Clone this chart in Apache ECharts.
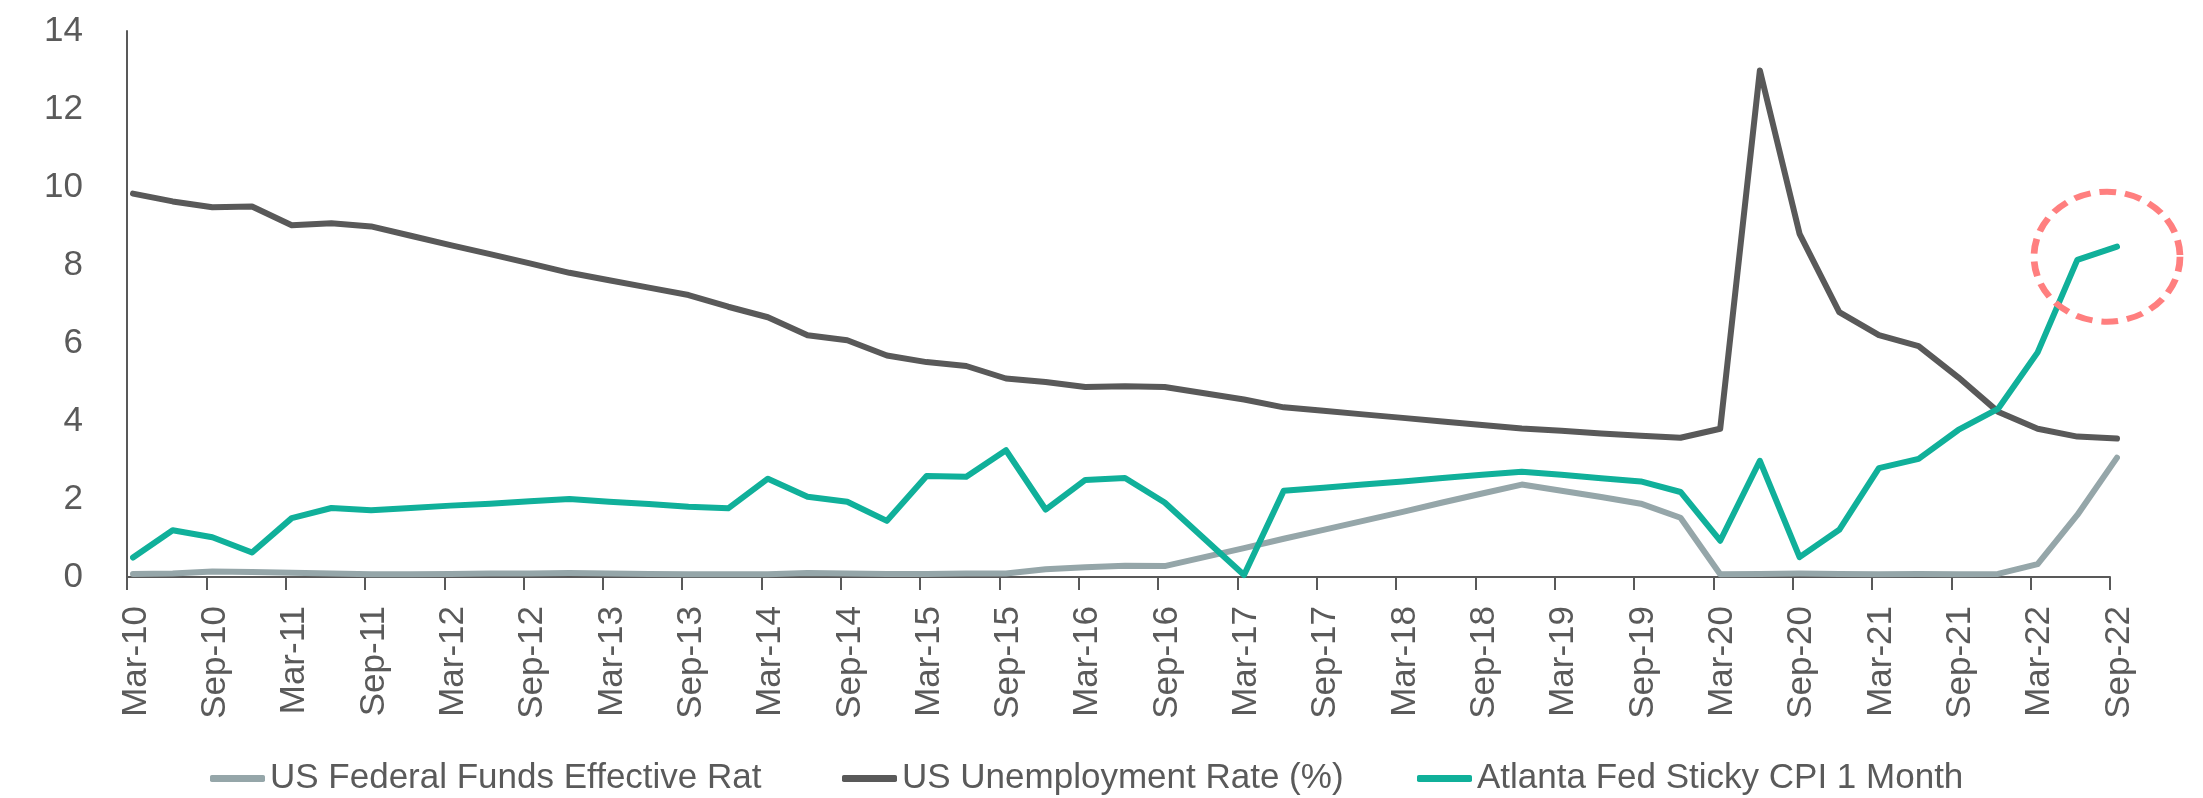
<!DOCTYPE html>
<html>
<head>
<meta charset="utf-8">
<script src="https://cdn.jsdelivr.net/npm/echarts@6/dist/echarts.min.js"></script>
<style>
  html, body { margin: 0; padding: 0; background: #ffffff; }
  #chart { width: 2203px; height: 798px; }
</style>
</head>
<body>
<div id="chart"></div>
<script>
const categories = [
  'Mar-10','Jun-10','Sep-10','Dec-10','Mar-11','Jun-11','Sep-11','Dec-11',
  'Mar-12','Jun-12','Sep-12','Dec-12','Mar-13','Jun-13','Sep-13','Dec-13',
  'Mar-14','Jun-14','Sep-14','Dec-14','Mar-15','Jun-15','Sep-15','Dec-15',
  'Mar-16','Jun-16','Sep-16','Dec-16','Mar-17','Jun-17','Sep-17','Dec-17',
  'Mar-18','Jun-18','Sep-18','Dec-18','Mar-19','Jun-19','Sep-19','Dec-19',
  'Mar-20','Jun-20','Sep-20','Dec-20','Mar-21','Jun-21','Sep-21','Dec-21',
  'Mar-22','Jun-22','Sep-22'
];

const seriesNames = [
  'US Federal Funds Effective Rat',
  'US Unemployment Rate (%)',
  'Atlanta Fed Sticky CPI 1 Month'
];

const fedFunds = [
  0.08, 0.09, 0.14, 0.13, 0.11, 0.09, 0.07, 0.07,
  0.08, 0.09, 0.09, 0.10, 0.09, 0.08, 0.07, 0.07,
  0.07, 0.10, 0.09, 0.08, 0.08, 0.09, 0.09, 0.20,
  0.25, 0.29, 0.28, 0.51, 0.74, 0.98, 1.21, 1.44,
  1.67, 1.91, 2.14, 2.37, 2.21, 2.05, 1.88, 1.52,
  0.07, 0.08, 0.09, 0.08, 0.07, 0.08, 0.07, 0.08,
  0.33, 1.59, 3.06
];

const unemployment = [
  9.83, 9.63, 9.48, 9.50, 9.02, 9.07, 8.99, 8.75,
  8.51, 8.28, 8.04, 7.80, 7.61, 7.42, 7.23, 6.93,
  6.66, 6.20, 6.07, 5.68, 5.51, 5.41, 5.09, 5.00,
  4.87, 4.89, 4.87, 4.71, 4.55, 4.35, 4.26, 4.17,
  4.08, 3.99, 3.90, 3.81, 3.75, 3.68, 3.62, 3.57,
  3.80, 12.99, 8.80, 6.79, 6.20, 5.92, 5.12, 4.24,
  3.80, 3.60, 3.55
];

const stickyCpi = [
  0.50, 1.20, 1.02, 0.63, 1.51, 1.77, 1.71, 1.77,
  1.83, 1.88, 1.94, 2.00, 1.93, 1.87, 1.80, 1.76,
  2.52, 2.06, 1.93, 1.44, 2.59, 2.57, 3.25, 1.73,
  2.49, 2.54, 1.91, 0.98, 0.05, 2.21, 2.29, 2.37,
  2.45, 2.54, 2.62, 2.70, 2.62, 2.53, 2.45, 2.18,
  0.93, 2.98, 0.51, 1.21, 2.79, 3.03, 3.77, 4.31,
  5.76, 8.13, 8.47
];

const yTicks = { min: 0, max: 14, interval: 2 };

const colors = ['#95A6A9', '#595959', '#10B09A'];
const FONT = "'Liberation Sans', Arial, sans-serif";
const TEXT_COLOR = '#5a5a5a';

const chart = echarts.init(document.getElementById('chart'), null, { renderer: 'canvas' });

function legendAt(i, left) {
  return {
    show: true,
    data: [seriesNames[i]],
    left: left,
    top: 761,
    padding: 0,
    itemWidth: 55,
    itemHeight: 7,
    icon: 'roundRect',
    textStyle: { fontFamily: FONT, fontSize: 35, color: TEXT_COLOR },
    selectedMode: false
  };
}

const seriesData = [fedFunds, unemployment, stickyCpi];

const option = {
  animation: false,
  backgroundColor: '#ffffff',
  color: colors,
  grid: [
    // axis frame (ticks / labels sit on the month boundaries)
    { left: 127, right: 93, top: 31, bottom: 221, containLabel: false },
    // plotted quarterly observations (slightly offset from the boundaries)
    { left: 133, right: 86, top: 31, bottom: 221, containLabel: false }
  ],
  legend: [legendAt(0, 210), legendAt(1, 842), legendAt(2, 1417)],
  xAxis: [
    {
      type: 'category',
      gridIndex: 0,
      data: categories,
      boundaryGap: false,
      axisLine: { show: true, lineStyle: { color: '#595959', width: 2 } },
      axisTick: { show: true, interval: 1, length: 13, lineStyle: { color: '#595959', width: 2 } },
      axisLabel: {
        interval: 1,
        rotate: 90,
        margin: 29,
        verticalAlign: 'top',
        lineHeight: 18,
        fontFamily: FONT,
        fontSize: 35,
        color: TEXT_COLOR
      },
      splitLine: { show: false }
    },
    {
      type: 'category',
      gridIndex: 1,
      data: categories,
      boundaryGap: false,
      show: false
    }
  ],
  yAxis: [
    {
      type: 'value',
      gridIndex: 0,
      min: yTicks.min,
      max: yTicks.max,
      interval: yTicks.interval,
      axisLine: { show: true, lineStyle: { color: '#595959', width: 2 } },
      axisTick: { show: false },
      axisLabel: { margin: 44, fontFamily: FONT, fontSize: 35, color: TEXT_COLOR },
      splitLine: { show: false }
    },
    {
      type: 'value',
      gridIndex: 1,
      min: yTicks.min,
      max: yTicks.max,
      interval: yTicks.interval,
      show: false,
      splitLine: { show: false }
    }
  ],
  series: seriesData.map((d, i) => ({
    name: seriesNames[i],
    type: 'line',
    xAxisIndex: 1,
    yAxisIndex: 1,
    data: d,
    showSymbol: false,
    symbol: 'none',
    z: 2 + i,
    lineStyle: { width: 6, color: colors[i], cap: 'round', join: 'round' },
    itemStyle: { color: colors[i] },
    emphasis: { disabled: true }
  }))
};

chart.setOption(option);

// Dashed highlight circle around the latest Sticky CPI reading
const lastIdx = stickyCpi.length - 1;
const p = chart.convertToPixel({ xAxisIndex: 1, yAxisIndex: 1 }, [lastIdx, stickyCpi[lastIdx]]);
chart.setOption({
  graphic: [{
    type: 'circle',
    x: p[0] - 10,
    y: p[1] + 10,
    scaleX: 73 / 65,
    scaleY: 1,
    shape: { cx: 0, cy: 0, r: 65 },
    style: { fill: 'none', stroke: '#FF7F7F', lineWidth: 6, lineDash: [15, 8] },
    z: 100,
    silent: true
  }]
});
</script>
</body>
</html>
